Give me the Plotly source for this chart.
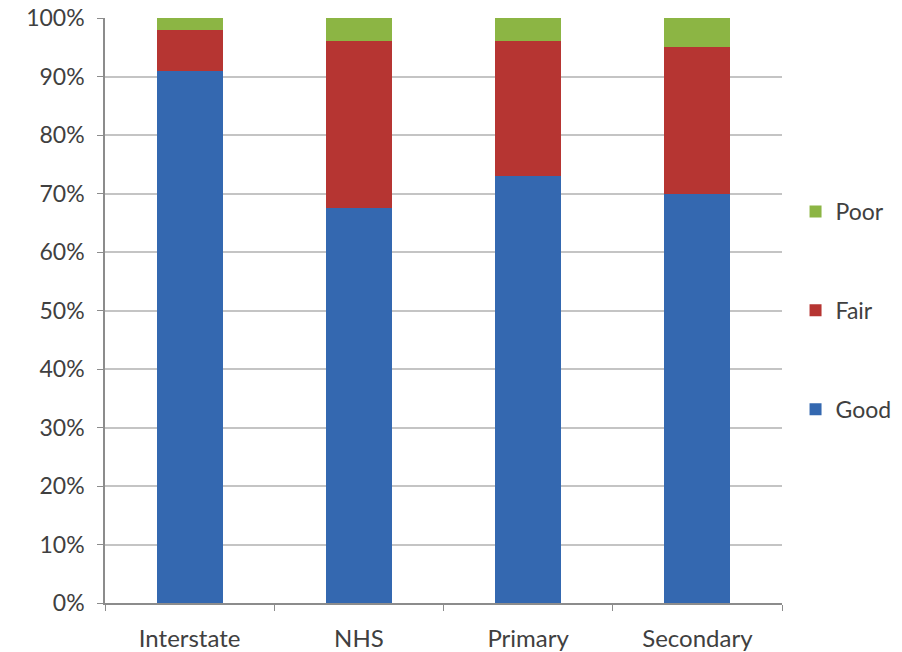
import plotly.graph_objects as go

categories = ["Interstate", "NHS", "Primary", "Secondary"]
good = [91, 67.5, 73, 70]
fair = [7, 28.5, 23, 25]
poor = [2, 4, 4, 5]
y_ticks = list(range(0, 101, 10))
y_tick_labels = [f"{v}%" for v in y_ticks]

font_family = "Lato, Open Sans, DejaVu Sans, sans-serif"
text_color = "#404040"

fig = go.Figure()
series = [("Good", good, "#3468B0", 3), ("Fair", fair, "#B63532", 2), ("Poor", poor, "#8CB544", 1)]
for name, vals, col, rank in series:
    fig.add_trace(go.Bar(
        x=categories, y=vals, name=name, legendgroup=name, legendrank=rank,
        marker=dict(color=col, line=dict(width=0)),
        width=0.39,
    ))

fig.update_layout(
    barmode="stack",
    width=902, height=652,
    margin=dict(l=105, r=120, t=18, b=49, autoexpand=False),
    paper_bgcolor="white", plot_bgcolor="white",
    font=dict(family=font_family, size=23, color=text_color),
    showlegend=True,
    legend=dict(
        x=1.02, y=0.5, xanchor="left", yanchor="middle",
        traceorder="grouped", tracegroupgap=66,
        font=dict(size=23, color=text_color),
        itemwidth=30,
    ),
)
fig.update_xaxes(
    automargin=False,
    showline=True, linecolor="#8c8c8c", linewidth=1.5,
    ticks="outside", tickson="boundaries", ticklen=6, tickcolor="#8c8c8c",
    ticklabelstandoff=13,
    showgrid=False, tickfont=dict(size=24, color=text_color),
)
fig.update_yaxes(
    automargin=False,
    range=[0, 100], tickvals=y_ticks, ticktext=y_tick_labels,
    showline=True, linecolor="#8c8c8c", linewidth=1.5,
    ticks="outside", ticklen=6, tickcolor="#8c8c8c",
    ticklabelstandoff=8,
    showgrid=True, gridcolor="#c4c4c4", gridwidth=1.5,
    zeroline=False, tickfont=dict(size=23, color=text_color),
)

fig.write_html("out.html")
